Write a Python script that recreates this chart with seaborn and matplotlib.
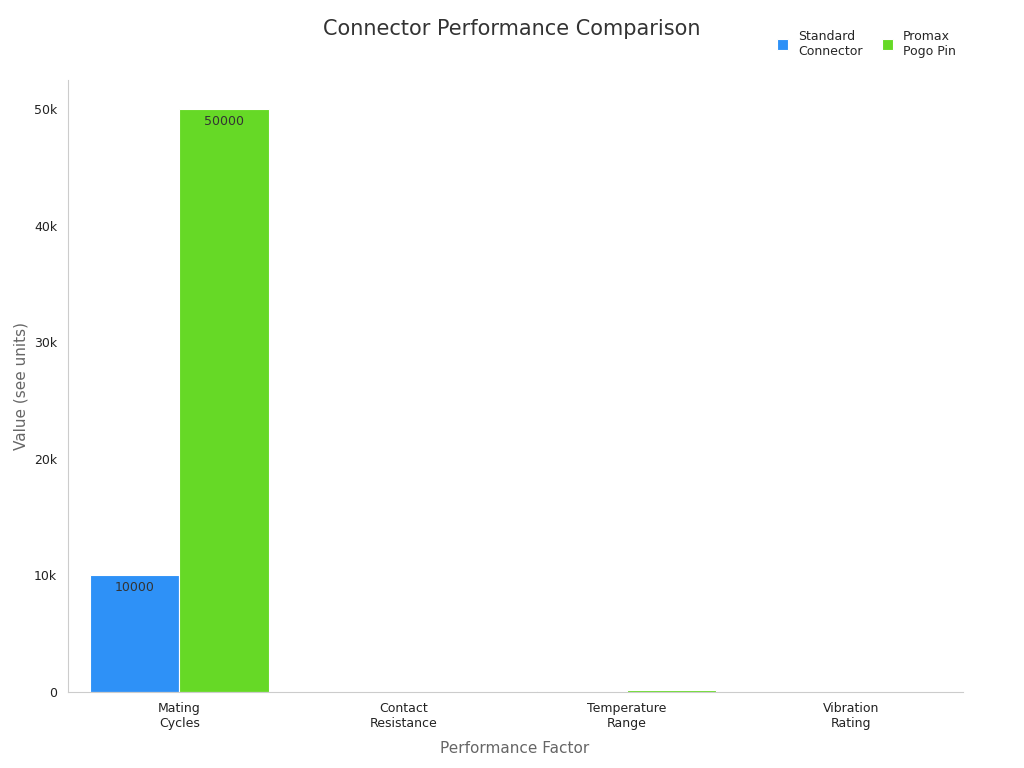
import matplotlib
matplotlib.use("Agg")
import matplotlib.pyplot as plt
import seaborn as sns
import pandas as pd
from matplotlib.ticker import FuncFormatter

factors = ["Mating\nCycles", "Contact\nResistance", "Temperature\nRange", "Vibration\nRating"]
standard = [10000, 30, 125, 10]
promax = [50000, 10, 200, 20]
series = ["Standard\nConnector", "Promax\nPogo Pin"]
colors = ["#2e91f7", "#66d926"]

df = pd.DataFrame({
    "factor": factors * 2,
    "value": standard + promax,
    "series": [series[0]] * 4 + [series[1]] * 4,
})

sns.set_style("white")
fig, ax = plt.subplots(figsize=(10.24, 7.68), dpi=100)
fig.subplots_adjust(left=0.066, right=0.94, top=0.896, bottom=0.099)

sns.barplot(data=df, x="factor", y="value", hue="series", palette=colors, saturation=1,
            width=0.8, edgecolor="white", linewidth=0.8, ax=ax, legend=True)

for cont in ax.containers:
    for bar, v in zip(cont, cont.datavalues):
        if v >= 1000:
            ax.text(bar.get_x() + bar.get_width() / 2, v - 500, f"{int(v)}",
                    ha="center", va="top", fontsize=9, color="#333333")

ax.set_ylim(0, 52500)
ax.yaxis.set_major_formatter(FuncFormatter(lambda v, p: "0" if v == 0 else f"{int(v/1000)}k"))
ax.tick_params(axis="both", labelsize=9, colors="#222222", length=4)
ax.tick_params(axis="y", color="#999999")
ax.tick_params(axis="x", color="#999999")
ax.set_xlabel("Performance Factor", fontsize=11, color="#666666", labelpad=8)
ax.set_ylabel("Value (see units)", fontsize=11, color="#666666")
for s in ["top", "right"]:
    ax.spines[s].set_visible(False)
for s in ["left", "bottom"]:
    ax.spines[s].set_color("#cccccc")

fig.suptitle("Connector Performance Comparison", fontsize=15, color="#333333", x=0.5, y=0.975)
ax.legend(title=None, loc="upper right", bbox_to_anchor=(1.005, 1.1), ncol=2,
          frameon=False, fontsize=9, handlelength=0.9, handleheight=0.9, columnspacing=1.5)

fig.savefig("out.png", dpi=100)
